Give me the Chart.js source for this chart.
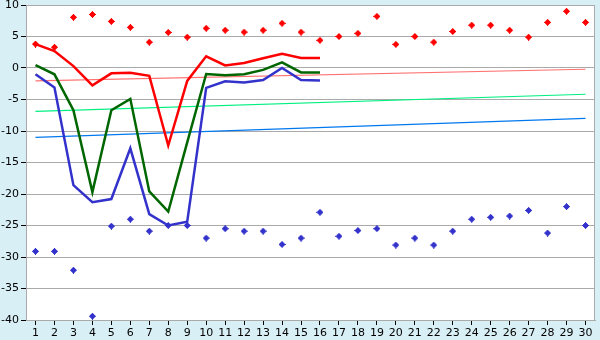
<!DOCTYPE html>
<html>
<head>
<meta charset="utf-8">
<script src="https://cdn.jsdelivr.net/npm/chart.js@4"></script>
<style>
html,body{margin:0;padding:0;background:#d9eff6;}
#wrap{width:600px;height:340px;position:relative;}
</style>
</head>
<body>
<div id="wrap"><canvas id="c" width="600" height="340"></canvas></div>
<script>
const days = ['1','2','3','4','5','6','7','8','9','10','11','12','13','14','15','16','17','18','19','20','21','22','23','24','25','26','27','28','29','30'];
const yTicks = [10,5,0,-5,-10,-15,-20,-25,-30,-35,-40];

const maxPoints = [3.8,3.3,8.05,8.5,7.4,6.45,4.1,5.65,4.9,6.3,6.0,5.7,6.0,7.1,5.7,4.4,5.0,5.5,8.2,3.75,5.0,4.1,5.8,6.8,6.8,6.0,4.9,7.25,9.0,7.25];
const minPoints = [-29.1,-29.1,-32.1,-39.4,-25.1,-24.0,-25.9,-25.0,-25.0,-27.0,-25.5,-25.9,-25.9,-28.0,-27.0,-22.9,-26.7,-25.8,-25.5,-28.1,-27.0,-28.1,-25.9,-24.0,-23.7,-23.5,-22.6,-26.2,-22.0,-25.0];

const redLine   = [3.8,2.7,0.3,-2.75,-0.85,-0.75,-1.25,-12.3,-2.05,1.85,0.4,0.8,1.55,2.27,1.6,1.6];
const greenLine = [0.45,-1.0,-6.7,-19.7,-6.7,-4.9,-19.6,-22.8,-11.8,-0.95,-1.15,-1.0,-0.3,0.9,-0.7,-0.7];
const blueLine  = [-1.0,-3.1,-18.6,-21.3,-20.8,-12.75,-23.2,-25.0,-24.4,-3.15,-2.1,-2.3,-1.9,0.0,-1.9,-2.0];

const trendPinkEnds  = [-2.05,-0.2];
const trendGreenEnds = [-6.87,-4.17];
const trendBlueEnds  = [-11.0,-8.0];

function ends(pair){ const a = days.map(()=>null); a[0]=pair[0]; a[days.length-1]=pair[1]; return a; }

function marker(color){
  const c = document.createElement('canvas'); c.width=7; c.height=7;
  const g = c.getContext('2d'); g.fillStyle=color;
  g.fillRect(2,0,3,7); g.fillRect(0,2,7,3);
  g.clearRect(2,0,1,1); g.clearRect(4,0,1,1); g.clearRect(2,6,1,1); g.clearRect(4,6,1,1);
  g.clearRect(0,2,1,1); g.clearRect(0,4,1,1); g.clearRect(6,2,1,1); g.clearRect(6,4,1,1);
  return c;
}

const bgPlugin = {
  id:'bg',
  beforeDraw(chart){
    const {ctx, chartArea:a} = chart;
    ctx.save();
    ctx.fillStyle='#d9eff6'; ctx.fillRect(0,0,chart.width,chart.height);
    ctx.fillStyle='#ffffff'; ctx.fillRect(a.left,a.top,a.right-a.left,a.bottom-a.top);
    ctx.restore();
  },
  afterDraw(chart){
    const {ctx, chartArea:a} = chart;
    ctx.save(); ctx.strokeStyle='#aaaaaa'; ctx.lineWidth=1;
    ctx.beginPath(); ctx.moveTo(Math.round(a.right)-0.5,a.top); ctx.lineTo(Math.round(a.right)-0.5,a.bottom); ctx.stroke();
    ctx.restore();
  }
};

const lineDs = (data,color,w)=>({data,borderColor:color,backgroundColor:color,borderWidth:w,pointRadius:0,tension:0,fill:false,spanGaps:true});
const ptDs = (data,color)=>({data,showLine:false,pointStyle:marker(color),pointRadius:3.5,pointHoverRadius:3.5,borderColor:color,backgroundColor:color});

new Chart(document.getElementById('c'),{
  type:'line',
  data:{
    labels:days,
    datasets:[
      ptDs(maxPoints,'#ff0000'),
      ptDs(minPoints,'#3333cc'),
      lineDs(redLine,'#ff0000',2.5),
      lineDs(greenLine,'#006600',2.5),
      lineDs(blueLine,'#3333cc',2.5),
      lineDs(ends(trendPinkEnds),'#ff7070',1.2),
      lineDs(ends(trendGreenEnds),'#00f080',1.2),
      lineDs(ends(trendBlueEnds),'#0078f0',1.2)
    ]
  },
  options:{
    responsive:false,animation:false,
    layout:{padding:{left:0,right:5,top:5,bottom:0}},
    plugins:{legend:{display:false},tooltip:{enabled:false}},
    scales:{
      x:{
        offset:true,
        grid:{drawOnChartArea:false,drawTicks:true,tickLength:5,tickColor:'#000',color:'#aaaaaa'},
        border:{color:'#aaaaaa'},
        ticks:{color:'#000',font:{family:'DejaVu Sans',size:11},padding:2,maxRotation:0,autoSkip:false},
        afterFit(s){ s.height=20; s.paddingLeft=0; s.paddingRight=0; }
      },
      y:{
        min:-40,max:10,
        grid:{color:'#aaaaaa',tickLength:5,tickColor:'#000'},
        border:{color:'#aaaaaa'},
        ticks:{stepSize:5,color:'#000',font:{family:'DejaVu Sans',size:11},padding:2,
          callback:(v)=> yTicks.includes(v) ? String(v) : null},
        afterFit(s){ s.width=26; s.paddingTop=0; s.paddingBottom=0; }
      }
    }
  },
  plugins:[bgPlugin]
});
</script>
</body>
</html>
